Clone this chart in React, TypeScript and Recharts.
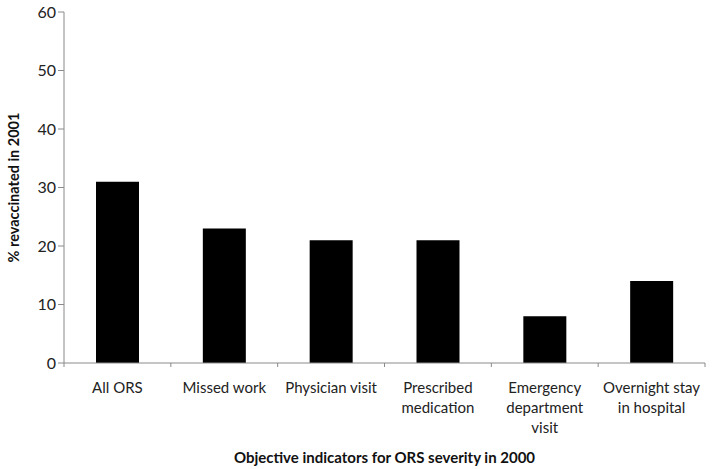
import { BarChart, Bar, XAxis, YAxis, Label } from "recharts";

const categories = [
  "All ORS",
  "Missed work",
  "Physician visit",
  "Prescribed\nmedication",
  "Emergency\ndepartment\nvisit",
  "Overnight stay\nin hospital",
];
const revaccinated = [31, 23, 21, 21, 8, 14];
const yTicks = [0, 10, 20, 30, 40, 50, 60];

const data = categories.map((name, i) => ({ name, value: revaccinated[i] }));

const FONT = "Lato, 'Open Sans', sans-serif";
const AXIS = "#8a8a8a";

// category labels, with Excel-style tick marks on the band edges
// eslint-disable-next-line @typescript-eslint/no-explicit-any
function CategoryTick({ x, y, payload, index }: any) {
  const lines = String(payload.value).split("\n");
  const half = payload.offset || 0;
  const axisY = y - 8;
  return (
    <g>
      <line x1={x - half} x2={x - half} y1={axisY} y2={axisY + 4} stroke={AXIS} />
      {index === categories.length - 1 && (
        <line x1={x + half} x2={x + half} y1={axisY} y2={axisY + 4} stroke={AXIS} />
      )}
      <text x={x} y={y} textAnchor="middle" fontFamily={FONT} fontSize={15} fill="#222">
        {lines.map((l, i) => (
          <tspan key={i} x={x} dy={i === 0 ? 22 : 20}>
            {l}
          </tspan>
        ))}
      </text>
    </g>
  );
}

export default function App() {
  return (
    <div style={{ position: "absolute", left: 0, top: 0, background: "#fff" }}>
      <BarChart
        width={715}
        height={469}
        data={data}
        margin={{ top: 12, right: 10, bottom: 0, left: 0 }}
        barCategoryGap={32}
      >
        <XAxis
          dataKey="name"
          height={106}
          stroke={AXIS}
          tickLine={false}
          interval={0}
          tick={<CategoryTick />}
        >
          <Label
            value="Objective indicators for ORS severity in 2000"
            position="insideBottom"
            offset={6}
            style={{ fontFamily: FONT, fontSize: 15, fontWeight: 700, fill: "#111" }}
          />
        </XAxis>
        <YAxis
          width={64}
          domain={[0, 60]}
          ticks={yTicks}
          stroke={AXIS}
          tickSize={6}
          tick={{ fontFamily: FONT, fontSize: 16, fill: "#222" }}
        >
          <Label
            value="% revaccinated in 2001"
            angle={-90}
            position="insideLeft"
            offset={14}
            style={{ textAnchor: "middle", fontFamily: FONT, fontSize: 14.5, fontWeight: 700, fill: "#111" }}
          />
        </YAxis>
        <Bar dataKey="value" fill="#000" isAnimationActive={false} />
      </BarChart>
    </div>
  );
}
